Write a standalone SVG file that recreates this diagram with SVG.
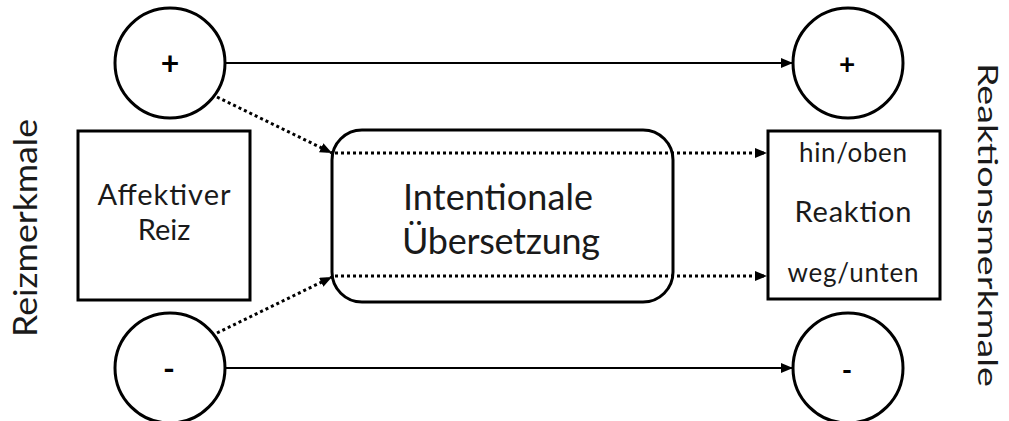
<svg xmlns="http://www.w3.org/2000/svg" width="1009" height="421" viewBox="0 0 1009 421">
<style>
.shape{fill:#fff;stroke:#000;stroke-width:3}
.lbl{font-family:Lato,"Liberation Sans",sans-serif;fill:#1a1a1a;text-anchor:middle}
.sym{font-family:Lato,"Liberation Sans",sans-serif;font-weight:bold;fill:#000;text-anchor:middle}
.solid{stroke:#000;stroke-width:2;fill:none}
.dot{stroke:#000;stroke-width:3;fill:none;stroke-dasharray:3 3}
</style>
<defs>
<marker id="ah" markerUnits="userSpaceOnUse" markerWidth="13" markerHeight="11" refX="12" refY="5" orient="auto">
<path d="M0,0 L12,5 L0,10 z" fill="#000"/>
</marker>
</defs>
<g id="connectors">
<line class="solid" x1="226" y1="63" x2="793" y2="63" marker-end="url(#ah)"/>
<line class="solid" x1="226" y1="368" x2="793" y2="368" marker-end="url(#ah)"/>
<line class="dot" x1="217" y1="97" x2="332" y2="153" marker-end="url(#ah)"/>
<line class="dot" x1="217" y1="333" x2="332" y2="277" marker-end="url(#ah)"/>
<line class="dot" x1="335" y1="153" x2="767" y2="153" marker-end="url(#ah)"/>
<line class="dot" x1="335" y1="276" x2="767" y2="276" marker-end="url(#ah)"/>
</g>
<g id="plus-left"><circle class="shape" cx="170" cy="63" r="55" style="fill:none"/><text class="sym" x="170" y="75" font-size="32">+</text></g>
<g id="minus-left"><circle class="shape" cx="170" cy="368" r="55" style="fill:none"/><text class="sym" x="169" y="380" font-size="32">-</text></g>
<g id="plus-right"><circle class="shape" cx="848" cy="63" r="55" style="fill:none"/><text class="sym" x="847" y="74" font-size="28">+</text></g>
<g id="minus-right"><circle class="shape" cx="848" cy="368" r="55" style="fill:none"/><text class="sym" x="847" y="380" font-size="28">-</text></g>
<g id="affektiver-reiz">
<rect class="shape" x="78" y="131" width="172" height="169"/>
<text class="lbl" x="164" y="205" font-size="29" textLength="133">Affektiver</text>
<text class="lbl" x="164" y="240" font-size="29">Reiz</text>
</g>
<g id="intentionale-uebersetzung">
<rect class="shape" x="332" y="130" width="341" height="172" rx="30" ry="30" style="fill:none"/>
<text class="lbl" x="498" y="210" font-size="36" textLength="190">Intentionale</text>
<text class="lbl" x="501" y="254" font-size="36" textLength="198">Übersetzung</text>
</g>
<g id="reaktion">
<rect class="shape" x="768" y="131" width="172" height="168"/>
<text class="lbl" x="853" y="162" font-size="26" textLength="108">hin/oben</text>
<text class="lbl" x="853" y="222" font-size="29" textLength="117">Reaktion</text>
<text class="lbl" x="853" y="282" font-size="26" textLength="131">weg/unten</text>
</g>
<g id="reizmerkmale">
<text class="lbl" transform="translate(37,228) rotate(-90)" x="0" y="0" font-size="33" textLength="218" lengthAdjust="spacingAndGlyphs">Reizmerkmale</text>
</g>
<g id="reaktionsmerkmale">
<text class="lbl" transform="translate(978,225) rotate(90)" x="0" y="0" font-size="26" textLength="324" lengthAdjust="spacingAndGlyphs">Reaktionsmerkmale</text>
</g>
</svg>
